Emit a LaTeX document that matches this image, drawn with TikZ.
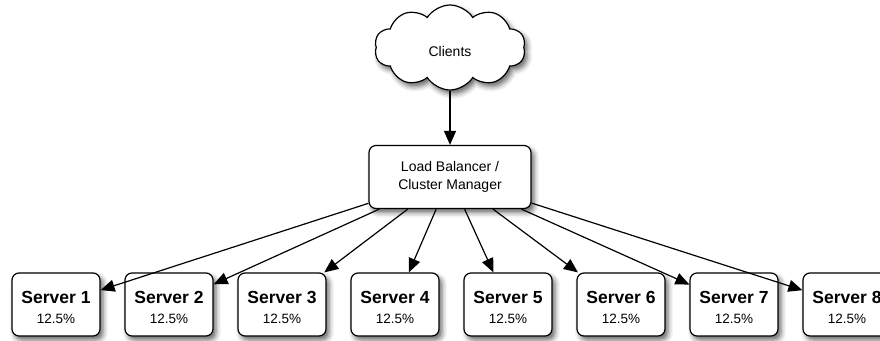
\documentclass[tikz,border=0pt]{standalone}
\usepackage{fontspec}
\setmainfont{Liberation Sans}
\usetikzlibrary{shapes.symbols,arrows.meta,shadows.blur}
\begin{document}
\begin{tikzpicture}[x=1pt,y=-1pt,
  shad/.style={blur shadow={shadow xshift=3pt,shadow yshift=-4pt,shadow blur radius=5pt,shadow opacity=60}},
  box/.style={draw=black, line width=1.2pt, rounded corners=7pt, fill=white, shad, align=center, inner sep=0pt},
  srv/.style={box, minimum width=88pt, minimum height=63pt, text height=39pt, font=\fontsize{13.5}{20}\selectfont},
  conn/.style={line width=1.2pt, -{Triangle[length=14pt,width=12pt]}}]
\useasboundingbox (0,0) rectangle (880,340);
\node[cloud, draw=black, line width=1.2pt, fill=white, shad, cloud puffs=10, cloud puff arc=115,
      minimum width=151pt, minimum height=85pt, inner sep=0pt,
      font=\fontsize{14}{16}\selectfont] (clients) at (450,47.5) {\raisebox{-9pt}[0pt][0pt]{Clients}};
\node[box, minimum width=162pt, minimum height=63pt, font=\fontsize{14}{18}\selectfont] (lb) at (450,177) {Load Balancer /\\Cluster Manager};
\foreach \i/\x in {1/56,2/169,3/282,4/395,5/508,6/621,7/734,8/847}
  \node[srv] (s\i) at (\x,304.5) {{\fontsize{17.5}{20}\selectfont\bfseries Server \i}\\12.5\%};
\draw[conn] (clients) -- (lb);
\foreach \i in {1,...,8}
  \draw[conn] (lb) -- (s\i);
\end{tikzpicture}
\end{document}
